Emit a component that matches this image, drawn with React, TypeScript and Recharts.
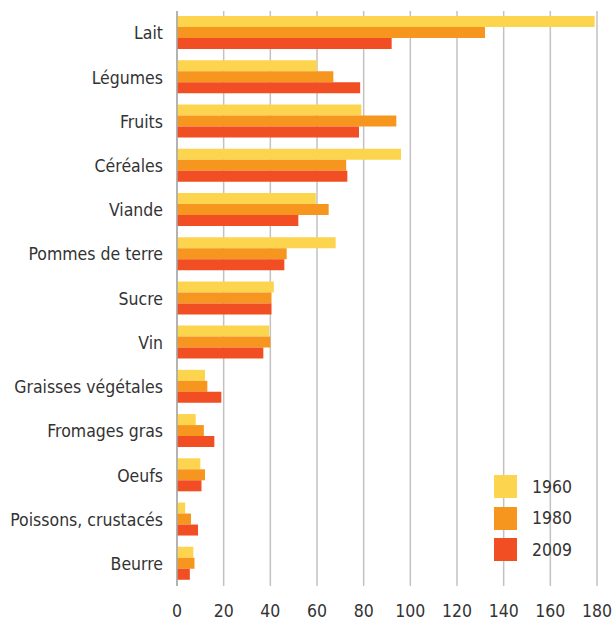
import { BarChart, Bar, XAxis, YAxis, CartesianGrid } from 'recharts'

const categories = [
  'Lait',
  'Légumes',
  'Fruits',
  'Céréales',
  'Viande',
  'Pommes de terre',
  'Sucre',
  'Vin',
  'Graisses végétales',
  'Fromages gras',
  'Oeufs',
  'Poissons, crustacés',
  'Beurre',
]

const values1960 = [179, 60, 79, 96, 59.5, 68, 41.5, 39.5, 12, 8, 10, 3.5, 7]
const values1980 = [132, 67, 94, 72.5, 65, 47, 40.5, 40, 13, 11.5, 12, 6, 7.5]
const values2009 = [92, 78.5, 78, 73, 52, 46, 40.5, 37, 19, 16, 10.5, 9, 5.5]

const xTicks = [0, 20, 40, 60, 80, 100, 120, 140, 160, 180]

const series = [
  { key: 'y1960', label: '1960', color: '#FDD44E' },
  { key: 'y1980', label: '1980', color: '#F7961F' },
  { key: 'y2009', label: '2009', color: '#F14E23' },
]

const data = categories.map((name, i) => ({
  name,
  y1960: values1960[i],
  y1980: values1980[i],
  y2009: values2009[i],
}))

const font = '"DejaVu Sans Condensed", "Liberation Sans", sans-serif'

export default function App() {
  return (
    <div style={{ position: 'absolute', left: 0, top: 0, width: 616, height: 620, background: '#fff' }}>
      <BarChart
        width={616}
        height={620}
        data={data}
        layout="vertical"
        margin={{ top: 11, right: 19, bottom: 0, left: 0 }}
        barCategoryGap="11.3%"
        barGap={0}
      >
        <CartesianGrid horizontal={false} stroke="#c2c2c2" strokeWidth={1.5} />
        <XAxis
          type="number"
          domain={[0, 180]}
          ticks={xTicks}
          axisLine={false}
          tickLine={false}
          tickMargin={13}
          height={34}
          tick={{ fill: '#333', fontSize: 17.5, fontFamily: font }}
        />
        <YAxis
          type="category"
          dataKey="name"
          width={177}
          tickLine={false}
          axisLine={{ stroke: '#a8a8a8', strokeWidth: 1.5 }}
          tickMargin={8}
          interval={0}
          tick={{ fill: '#333', fontSize: 17.5, fontFamily: font }}
        />
        {series.map((s) => (
          <Bar key={s.key} dataKey={s.key} name={s.label} fill={s.color} isAnimationActive={false} />
        ))}
      </BarChart>
      {/* legend box, bottom right inside the plot */}
      <div style={{ position: 'absolute', left: 494, top: 471, fontFamily: font, fontSize: 17.5, color: '#333' }}>
        {series.map((s) => (
          <div key={s.key} style={{ display: 'flex', alignItems: 'center', height: 31.5 }}>
            <span style={{ display: 'inline-block', width: 23, height: 23, background: s.color }} />
            <span style={{ marginLeft: 15 }}>{s.label}</span>
          </div>
        ))}
      </div>
    </div>
  )
}
